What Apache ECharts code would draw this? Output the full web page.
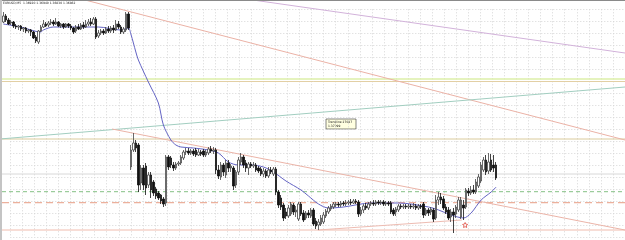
<!DOCTYPE html>
<html>
<head>
<meta charset="utf-8">
<script src="https://cdn.jsdelivr.net/npm/echarts@6/dist/echarts.min.js"></script>
<style>
  html, body { margin: 0; padding: 0; background: #fff; }
  #chart { width: 625px; height: 240px; }
</style>
</head>
<body>
<div id="chart"></div>
<script>
// EURUSD M5, one candle per slot; prices
const opens = [
  1.3847,1.3853,1.3849,1.3846,1.3847,1.3843,1.3842,1.3843,1.3840,1.3841,1.3838,1.3839,1.3837,1.3832,1.3827,1.3838,1.3842,1.3845,1.3844,1.3846,
  1.3847,1.3845,1.3847,1.3843,1.3845,1.3842,1.3845,1.3843,1.3841,1.3838,1.3842,1.3840,1.3844,1.3842,1.3845,1.3847,1.3845,1.3850,1.3833,1.3836,
  1.3838,1.3836,1.3840,1.3838,1.3841,1.3839,1.3845,1.3842,1.3837,1.3839,1.3855,
  1.3702,1.3719,1.3726,1.3724,1.3686,1.3701,1.3703,1.3684,1.3694,1.3687,1.3680,1.3676,1.3674,1.3670,1.3666,1.3712,1.3711,1.3704,1.3701,1.3705,
  1.3706,1.3711,1.3717,1.3718,1.3716,1.3718,1.3719,1.3714,1.3717,1.3718,1.3714,1.3716,1.3720,1.3718,1.3719,1.3699,1.3692,1.3704,1.3694,1.3706,
  1.3701,1.3701,1.3684,1.3697,1.3707,1.3712,1.3706,1.3701,1.3705,1.3703,1.3704,1.3701,1.3700,1.3695,1.3698,1.3693,1.3699,1.3695,1.3700,1.3677,
  1.3671,1.3664,1.3657,1.3653,1.3655,1.3664,1.3657,1.3650,1.3665,1.3656,1.3651,1.3656,1.3653,1.3659,1.3648,1.3644,1.3645,1.3647,1.3653,1.3657,
  1.3660,1.3662,1.3664,1.3665,1.3664,1.3666,1.3665,1.3666,1.3667,1.3666,1.3668,1.3667,1.3655,1.3659,1.3663,1.3661,1.3665,1.3666,1.3665,1.3667,
  1.3666,1.3667,1.3665,1.3666,1.3666,1.3659,1.3657,1.3659,1.3663,1.3662,1.3663,1.3662,1.3663,1.3662,1.3663,1.3661,1.3663,1.3665,1.3655,1.3659,
  1.3657,1.3659,1.3651,1.3669,1.3672,1.3670,1.3662,1.3659,1.3652,1.3657,1.3655,1.3659,1.3652,1.3664,1.3662,1.3678,1.3676,1.3679,1.3677,1.3683,
  1.3688,1.3699,1.3709,1.3698,1.3709,1.3704,1.3704
];
const closes = [
  1.3853,1.3849,1.3845,1.3847,1.3843,1.3842,1.3843,1.3840,1.3841,1.3838,1.3839,1.3837,1.3831,1.3828,1.3838,1.3842,1.3845,1.3843,1.3846,1.3847,
  1.3845,1.3847,1.3843,1.3845,1.3842,1.3845,1.3843,1.3841,1.3837,1.3842,1.3840,1.3844,1.3842,1.3845,1.3847,1.3845,1.3850,1.3832,1.3836,1.3838,
  1.3836,1.3840,1.3838,1.3841,1.3839,1.3845,1.3842,1.3837,1.3840,1.3855,1.3841,
  1.3719,1.3726,1.3721,1.3684,1.3701,1.3684,1.3681,1.3694,1.3679,1.3676,1.3673,1.3671,1.3668,1.3665,1.3712,1.3702,1.3704,1.3701,1.3705,1.3706,
  1.3712,1.3717,1.3718,1.3716,1.3718,1.3715,1.3714,1.3717,1.3715,1.3714,1.3717,1.3720,1.3718,1.3719,1.3699,1.3693,1.3704,1.3697,1.3706,1.3701,
  1.3703,1.3683,1.3697,1.3709,1.3712,1.3704,1.3701,1.3705,1.3703,1.3704,1.3699,1.3698,1.3695,1.3698,1.3693,1.3699,1.3697,1.3700,1.3677,1.3664,
  1.3662,1.3651,1.3653,1.3661,1.3665,1.3657,1.3659,1.3665,1.3655,1.3649,1.3656,1.3654,1.3659,1.3645,1.3643,1.3647,1.3651,1.3654,1.3658,1.3661,
  1.3663,1.3665,1.3665,1.3664,1.3666,1.3665,1.3666,1.3667,1.3666,1.3668,1.3667,1.3655,1.3659,1.3663,1.3661,1.3665,1.3666,1.3665,1.3667,1.3666,
  1.3667,1.3665,1.3666,1.3665,1.3657,1.3655,1.3660,1.3663,1.3662,1.3663,1.3662,1.3663,1.3662,1.3663,1.3661,1.3663,1.3662,1.3654,1.3659,1.3656,
  1.3660,1.3650,1.3669,1.3672,1.3669,1.3661,1.3657,1.3651,1.3657,1.3654,1.3662,1.3669,1.3669,1.3661,1.3679,1.3676,1.3679,1.3677,1.3687,1.3692,
  1.3704,1.3709,1.3697,1.3707,1.3699,1.3701,1.3691
];
const lows = [
  1.3846,1.3847,1.3844,1.3844,1.3841,1.3840,1.3839,1.3838,1.3837,1.3836,1.3836,1.3833,1.3830,1.3826,1.3825,1.3837,1.3841,1.3842,1.3842,1.3844,
  1.3843,1.3844,1.3842,1.3841,1.3840,1.3841,1.3841,1.3839,1.3835,1.3836,1.3839,1.3839,1.3840,1.3841,1.3843,1.3843,1.3844,1.3830,1.3831,1.3834,
  1.3834,1.3835,1.3836,1.3836,1.3836,1.3838,1.3840,1.3835,1.3835,1.3837,1.3839,
  1.3699,1.3717,1.3717,1.3677,1.3679,1.3679,1.3674,1.3681,1.3671,1.3673,1.3670,1.3669,1.3665,1.3662,1.3663,1.3699,1.3701,1.3698,1.3699,1.3703,
  1.3704,1.3709,1.3714,1.3714,1.3714,1.3713,1.3712,1.3713,1.3713,1.3712,1.3712,1.3714,1.3716,1.3715,1.3695,1.3690,1.3689,1.3693,1.3691,1.3697,
  1.3697,1.3679,1.3681,1.3694,1.3704,1.3701,1.3697,1.3694,1.3701,1.3701,1.3697,1.3696,1.3693,1.3692,1.3691,1.3691,1.3695,1.3693,1.3674,1.3661,
  1.3659,1.3648,1.3650,1.3651,1.3653,1.3654,1.3652,1.3648,1.3653,1.3647,1.3649,1.3651,1.3651,1.3643,1.3640,1.3639,1.3643,1.3645,1.3651,1.3655,
  1.3658,1.3660,1.3662,1.3662,1.3662,1.3663,1.3663,1.3664,1.3664,1.3665,1.3665,1.3652,1.3653,1.3656,1.3659,1.3659,1.3663,1.3663,1.3663,1.3664,
  1.3664,1.3663,1.3663,1.3663,1.3655,1.3653,1.3653,1.3657,1.3660,1.3660,1.3660,1.3660,1.3660,1.3660,1.3659,1.3659,1.3660,1.3651,1.3653,1.3653,
  1.3654,1.3647,1.3649,1.3664,1.3665,1.3659,1.3655,1.3649,1.3647,1.3636,1.3651,1.3657,1.3650,1.3649,1.3660,1.3673,1.3674,1.3675,1.3675,1.3681,
  1.3686,1.3697,1.3694,1.3695,1.3697,1.3697,1.3689
];
const highs = [
  1.3857,1.3855,1.3851,1.3849,1.3848,1.3845,1.3844,1.3844,1.3842,1.3842,1.3840,1.3840,1.3838,1.3834,1.3839,1.3844,1.3849,1.3847,1.3848,1.3850,
  1.3849,1.3851,1.3848,1.3846,1.3846,1.3846,1.3846,1.3845,1.3842,1.3844,1.3845,1.3846,1.3847,1.3849,1.3850,1.3851,1.3852,1.3852,1.3839,1.3840,
  1.3840,1.3842,1.3843,1.3843,1.3844,1.3849,1.3848,1.3844,1.3842,1.3857,1.3857,
  1.3724,1.3736,1.3729,1.3726,1.3704,1.3704,1.3706,1.3697,1.3697,1.3689,1.3682,1.3678,1.3675,1.3672,1.3714,1.3714,1.3713,1.3707,1.3707,1.3708,
  1.3714,1.3719,1.3721,1.3721,1.3720,1.3720,1.3721,1.3720,1.3719,1.3720,1.3719,1.3722,1.3723,1.3722,1.3721,1.3704,1.3707,1.3706,1.3709,1.3709,
  1.3705,1.3703,1.3699,1.3712,1.3716,1.3714,1.3709,1.3707,1.3707,1.3707,1.3706,1.3703,1.3702,1.3701,1.3700,1.3702,1.3702,1.3702,1.3702,1.3679,
  1.3674,1.3666,1.3661,1.3664,1.3667,1.3666,1.3663,1.3667,1.3667,1.3659,1.3658,1.3659,1.3661,1.3661,1.3651,1.3650,1.3654,1.3657,1.3660,1.3663,
  1.3665,1.3667,1.3667,1.3667,1.3668,1.3668,1.3669,1.3669,1.3670,1.3670,1.3670,1.3669,1.3662,1.3665,1.3666,1.3667,1.3668,1.3669,1.3669,1.3669,
  1.3669,1.3669,1.3668,1.3668,1.3668,1.3661,1.3662,1.3665,1.3665,1.3665,1.3665,1.3665,1.3665,1.3666,1.3665,1.3665,1.3665,1.3667,1.3661,1.3661,
  1.3662,1.3661,1.3674,1.3677,1.3676,1.3673,1.3665,1.3662,1.3660,1.3661,1.3664,1.3672,1.3672,1.3669,1.3681,1.3681,1.3683,1.3684,1.3690,1.3695,
  1.3707,1.3712,1.3714,1.3716,1.3715,1.3714,1.3707
];

// moving average read at sample bars: [bar, price]
const maPoints = [
  [0,1.3845],[7,1.3842],[15,1.3837],[16,1.3839],[20,1.3842],[26,1.3842],[38,1.3842],[47,1.3839],[50,1.3841],
  [51,1.3835],[53,1.3817],[54,1.3809],[58,1.3787],[62,1.3766],[64,1.3744],[67,1.3729],[69,1.3724],[71,1.3722],
  [76,1.3721],[82,1.3719],[86,1.3716],[90,1.3707],[94,1.3704],[99,1.3704],[104,1.3702],[108,1.3697],[113,1.3688],
  [119,1.3679],[122,1.3673],[126,1.3665],[130,1.3661],[136,1.3662],[147,1.3666],[158,1.3666],[170,1.3662],
  [174,1.3659],[179,1.3654],[184,1.3651],[187,1.3656],[191,1.3669],[195,1.3677],[197,1.3682]
];

// drawn trendlines: [bar, price] end points
const trendTopRed = [[32.7, 1.3869], [248.5, 1.3729]];
const trendPurple = [[99.8, 1.3869], [248.5, 1.3816]];
const trendTeal = [[-1.3, 1.3730], [248.5, 1.3782]];
const trendMidRed = [[43.5, 1.3740], [248.5, 1.3639]];
const trendLowRed = [[125.8, 1.3639], [183.3, 1.3649]];

// horizontal levels
const levelGreenTop = 1.3790;
const levelTanTop = 1.37875;
const levelTanMid = 1.3730;
const levelGray = 1.3695;
const levelGreenDash = 1.36773;
const levelRedDash = 1.36663;
const levelRedLow = 1.3639;

const arrowMark = [[184.6, 1.3644]];

const slotCount = 249;
const slots = [];
for (let i = 0; i < slotCount; i++) slots.push(String(i));

const chart = echarts.init(document.getElementById('chart'));

function trend(data, color, width, type) {
  return {
    type: 'line',
    xAxisIndex: 1,
    yAxisIndex: 0,
    data,
    symbol: 'none',
    clip: true,
    silent: true,
    lineStyle: { color, width: width || 1, type: type || 'solid' },
    z: 3
  };
}

// a horizontal level spans the full bar range
function level(value, color, type, width) {
  return trend([[-0.5, value], [slotCount - 0.5, value]], color, width, type);
}

const hiddenLine = { show: false };
const gridDots = { show: true, lineStyle: { color: '#d6d6d6', type: [1, 2], width: 1 } };

chart.setOption({
  animation: false,
  backgroundColor: '#ffffff',
  grid: [
    { left: 2, right: 0, top: 0, bottom: 3 },
    { left: 10.3, width: 12.06 * 51, top: 9.3, height: 12 * 19 }
  ],
  xAxis: [
    { type: 'category', gridIndex: 0, data: slots, show: false, boundaryGap: true },
    { type: 'value', gridIndex: 0, min: -0.5, max: slotCount - 0.5, show: false },
    {
      type: 'value', gridIndex: 1, min: 0, max: 51, interval: 1,
      axisLine: hiddenLine, axisTick: hiddenLine, axisLabel: hiddenLine, splitLine: gridDots
    }
  ],
  yAxis: [
    { type: 'value', gridIndex: 0, min: 1.3632, max: 1.3869, show: false },
    {
      type: 'value', gridIndex: 1, min: 0, max: 19, interval: 1,
      axisLine: hiddenLine, axisTick: hiddenLine, axisLabel: hiddenLine, splitLine: gridDots
    }
  ],
  series: [
    level(levelGreenTop, '#dcefa8', 'solid', 1.6),
    level(levelTanTop, '#e2cfa4'),
    level(levelTanMid, '#dacb9c'),
    level(levelGray, '#d8d8d8'),
    level(levelGreenDash, '#84c084', [4, 3]),
    level(levelRedDash, '#ecb09c', [7, 4], 1.2),
    level(levelRedLow, '#f0bcae'),
    trend(trendTopRed, '#ebb2a6'),
    trend(trendPurple, '#d2b2da'),
    trend(trendTeal, '#a2cec0'),
    trend(trendMidRed, '#ebb4a8'),
    trend(trendLowRed, '#eebcb2'),
    {
      type: 'line',
      xAxisIndex: 0,
      yAxisIndex: 0,
      data: maPoints,
      symbol: 'none',
      smooth: 0.3,
      lineStyle: { color: '#6464c4', width: 1 },
      z: 4
    },
    {
      type: 'candlestick',
      xAxisIndex: 0,
      yAxisIndex: 0,
      data: opens.map((o, i) => [o, closes[i], lows[i], highs[i]]),
      barWidth: 2,
      itemStyle: {
        color: '#ffffff',
        color0: '#111111',
        borderColor: '#444444',
        borderColor0: '#111111',
        borderWidth: 0.8
      },
      z: 5
    },
    {
      type: 'scatter',
      xAxisIndex: 1,
      yAxisIndex: 0,
      data: arrowMark,
      symbol: 'path://M0,-10 L2.9,-4 9.5,-3.1 4.8,1.5 5.9,8.1 0,5 -5.9,8.1 -4.8,1.5 -9.5,-3.1 -2.9,-4 Z',
      symbolSize: 5,
      itemStyle: { color: 'rgba(0,0,0,0)', borderColor: '#e0483c', borderWidth: 1 },
      z: 6
    }
  ],
  graphic: [
    { type: 'rect', shape: { x: 0, y: 0, width: 625, height: 1 }, style: { fill: '#8a8a8a' }, z: 10 },
    { type: 'rect', shape: { x: 0, y: 0, width: 2, height: 240 }, style: { fill: '#c4c4c4' }, z: 10 },
    {
      type: 'text', x: 3, y: 2, z: 10,
      style: { text: 'EURUSD,M5  1.36920 1.36940 1.36830 1.36862', font: '3px "DejaVu Sans"', fill: '#222' }
    },
    {
      type: 'group', x: 326, y: 119, z: 10,
      children: [
        { type: 'rect', shape: { x: 0, y: 0, width: 30, height: 10 }, style: { fill: '#ffffe1', stroke: '#333', lineWidth: 0.6 } },
        { type: 'text', x: 2, y: 1.5, style: { text: 'Trendline 27047\n1.37299', font: '3px "DejaVu Sans"', fill: '#111', lineHeight: 4 } }
      ]
    }
  ]
});
</script>
</body>
</html>
